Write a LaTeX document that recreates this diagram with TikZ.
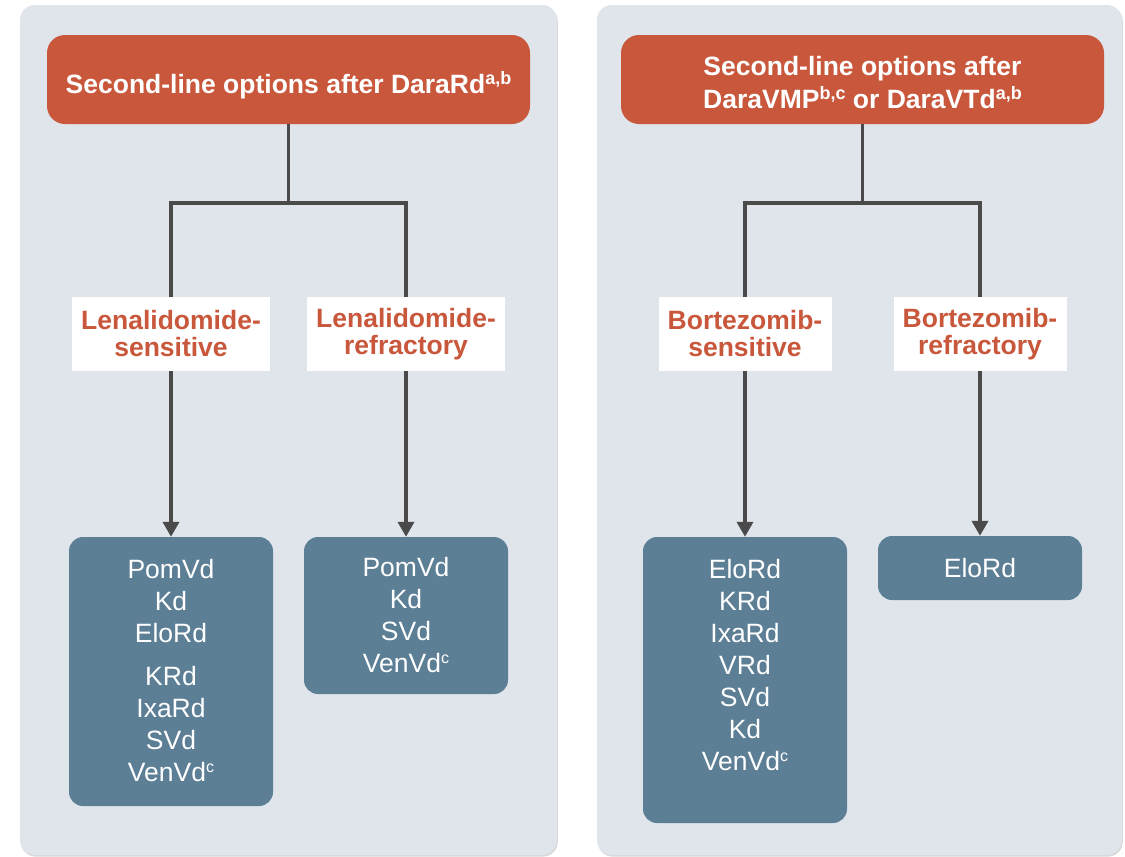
\documentclass[tikz,border=0pt]{standalone}
\usepackage{fontspec}
\setmainfont{Liberation Sans}
\usetikzlibrary{arrows.meta,shadows}
\definecolor{panelbg}{HTML}{DFE5EB}
\definecolor{hdrorange}{HTML}{C8573B}
\definecolor{optblue}{HTML}{5C7F96}
\definecolor{linkgray}{HTML}{4A4A4A}
% raised small footnote letters
\newcommand\sups[1]{\raisebox{9pt}{\fontsize{18}{18}\selectfont #1}}
\newcommand\supsm[1]{\raisebox{9pt}{\fontsize{16}{16}\selectfont #1}}
\begin{document}
\begin{tikzpicture}[x=1pt,y=-1pt,
  panel/.style={fill=panelbg, rounded corners=15pt,
    drop shadow={shadow xshift=0.8pt,shadow yshift=-1.6pt,opacity=0.25,fill=black!60}},
  header/.style={fill=hdrorange, rounded corners=18pt,
    minimum width=483pt, minimum height=89pt, inner sep=0pt},
  headtext/.style={text=white, font=\fontsize{26.5}{31}\selectfont\bfseries,
    inner sep=0pt, anchor=base},
  status/.style={fill=white, text=hdrorange,
    font=\fontsize{26.5}{27}\selectfont\bfseries, align=center,
    minimum height=74pt, inner sep=0pt},
  optbox/.style={fill=optblue, rounded corners=14pt, minimum width=204pt, inner sep=0pt},
  opttext/.style={text=white, font=\fontsize{26.5}{32}\selectfont, align=center, inner sep=0pt},
  link/.style={draw=linkgray, line width=3.6pt},
  arrowlink/.style={link, -{Triangle[width=16pt,length=15pt]}}
]
\useasboundingbox (0,0) rectangle (1125,857);
\fill[white] (0,0) rectangle (1125,857);

% two background panels
\path[panel] (20,5) rectangle (557,855);
\path[panel] (597,5) rectangle (1122,855);

% headers
\node[header] (hL) at (288.5,79.5) {};
\node[headtext] (hLt) at (288.5,93) {Second-line options after DaraRd\sups{a,b}};
\node[header] (hR) at (862.5,79.5) {};
\node[headtext] (hRt1) at (862.5,75) {Second-line options after};
\node[headtext] (hRt2) at (862.5,108) {DaraVMP\sups{b,c} or DaraVTd\sups{a,b}};

% status labels
\node[status, minimum width=198pt] (sL1) at (171,334) {Lenalidomide-\\sensitive};
\node[status, minimum width=198pt] (sL2) at (406,334) {Lenalidomide-\\refractory};
\node[status, minimum width=173pt] (sR1) at (745,334) {Bortezomib-\\sensitive};
\node[status, minimum width=173pt] (sR2) at (980,334) {Bortezomib-\\refractory};

% treatment option boxes
\node[optbox, minimum height=269pt] (bL1) at (171,671.5) {};
\node[optbox, minimum height=157pt] (bL2) at (406,615.5) {};
\node[optbox, minimum height=286pt] (bR1) at (745,680) {};
\node[optbox, minimum height=64pt]  (bR2) at (980,568) {};

\node[opttext] (tL1) at (171,671) {PomVd\\Kd\\EloRd\\[11pt]KRd\\IxaRd\\SVd\\VenVd\supsm{c}};
\node[opttext] (tL2) at (406,615) {PomVd\\Kd\\SVd\\VenVd\supsm{c}};
\node[opttext] (tR1) at (745,665) {EloRd\\KRd\\IxaRd\\VRd\\SVd\\Kd\\VenVd\supsm{c}};
\node[opttext] (tR2) at (980,568) {EloRd};

% tree connectors
\draw[link] (hL.south) -- ++(0,79) -| (sL1.north);
\draw[link] (hL.south) -- ++(0,79) -| (sL2.north);
\draw[link] (hR.south) -- ++(0,79) -| (sR1.north);
\draw[link] (hR.south) -- ++(0,79) -| (sR2.north);

\draw[arrowlink] (sL1.south) -- (bL1.north);
\draw[arrowlink] (sL2.south) -- (bL2.north);
\draw[arrowlink] (sR1.south) -- (bR1.north);
\draw[arrowlink] (sR2.south) -- (bR2.north);
\end{tikzpicture}
\end{document}
